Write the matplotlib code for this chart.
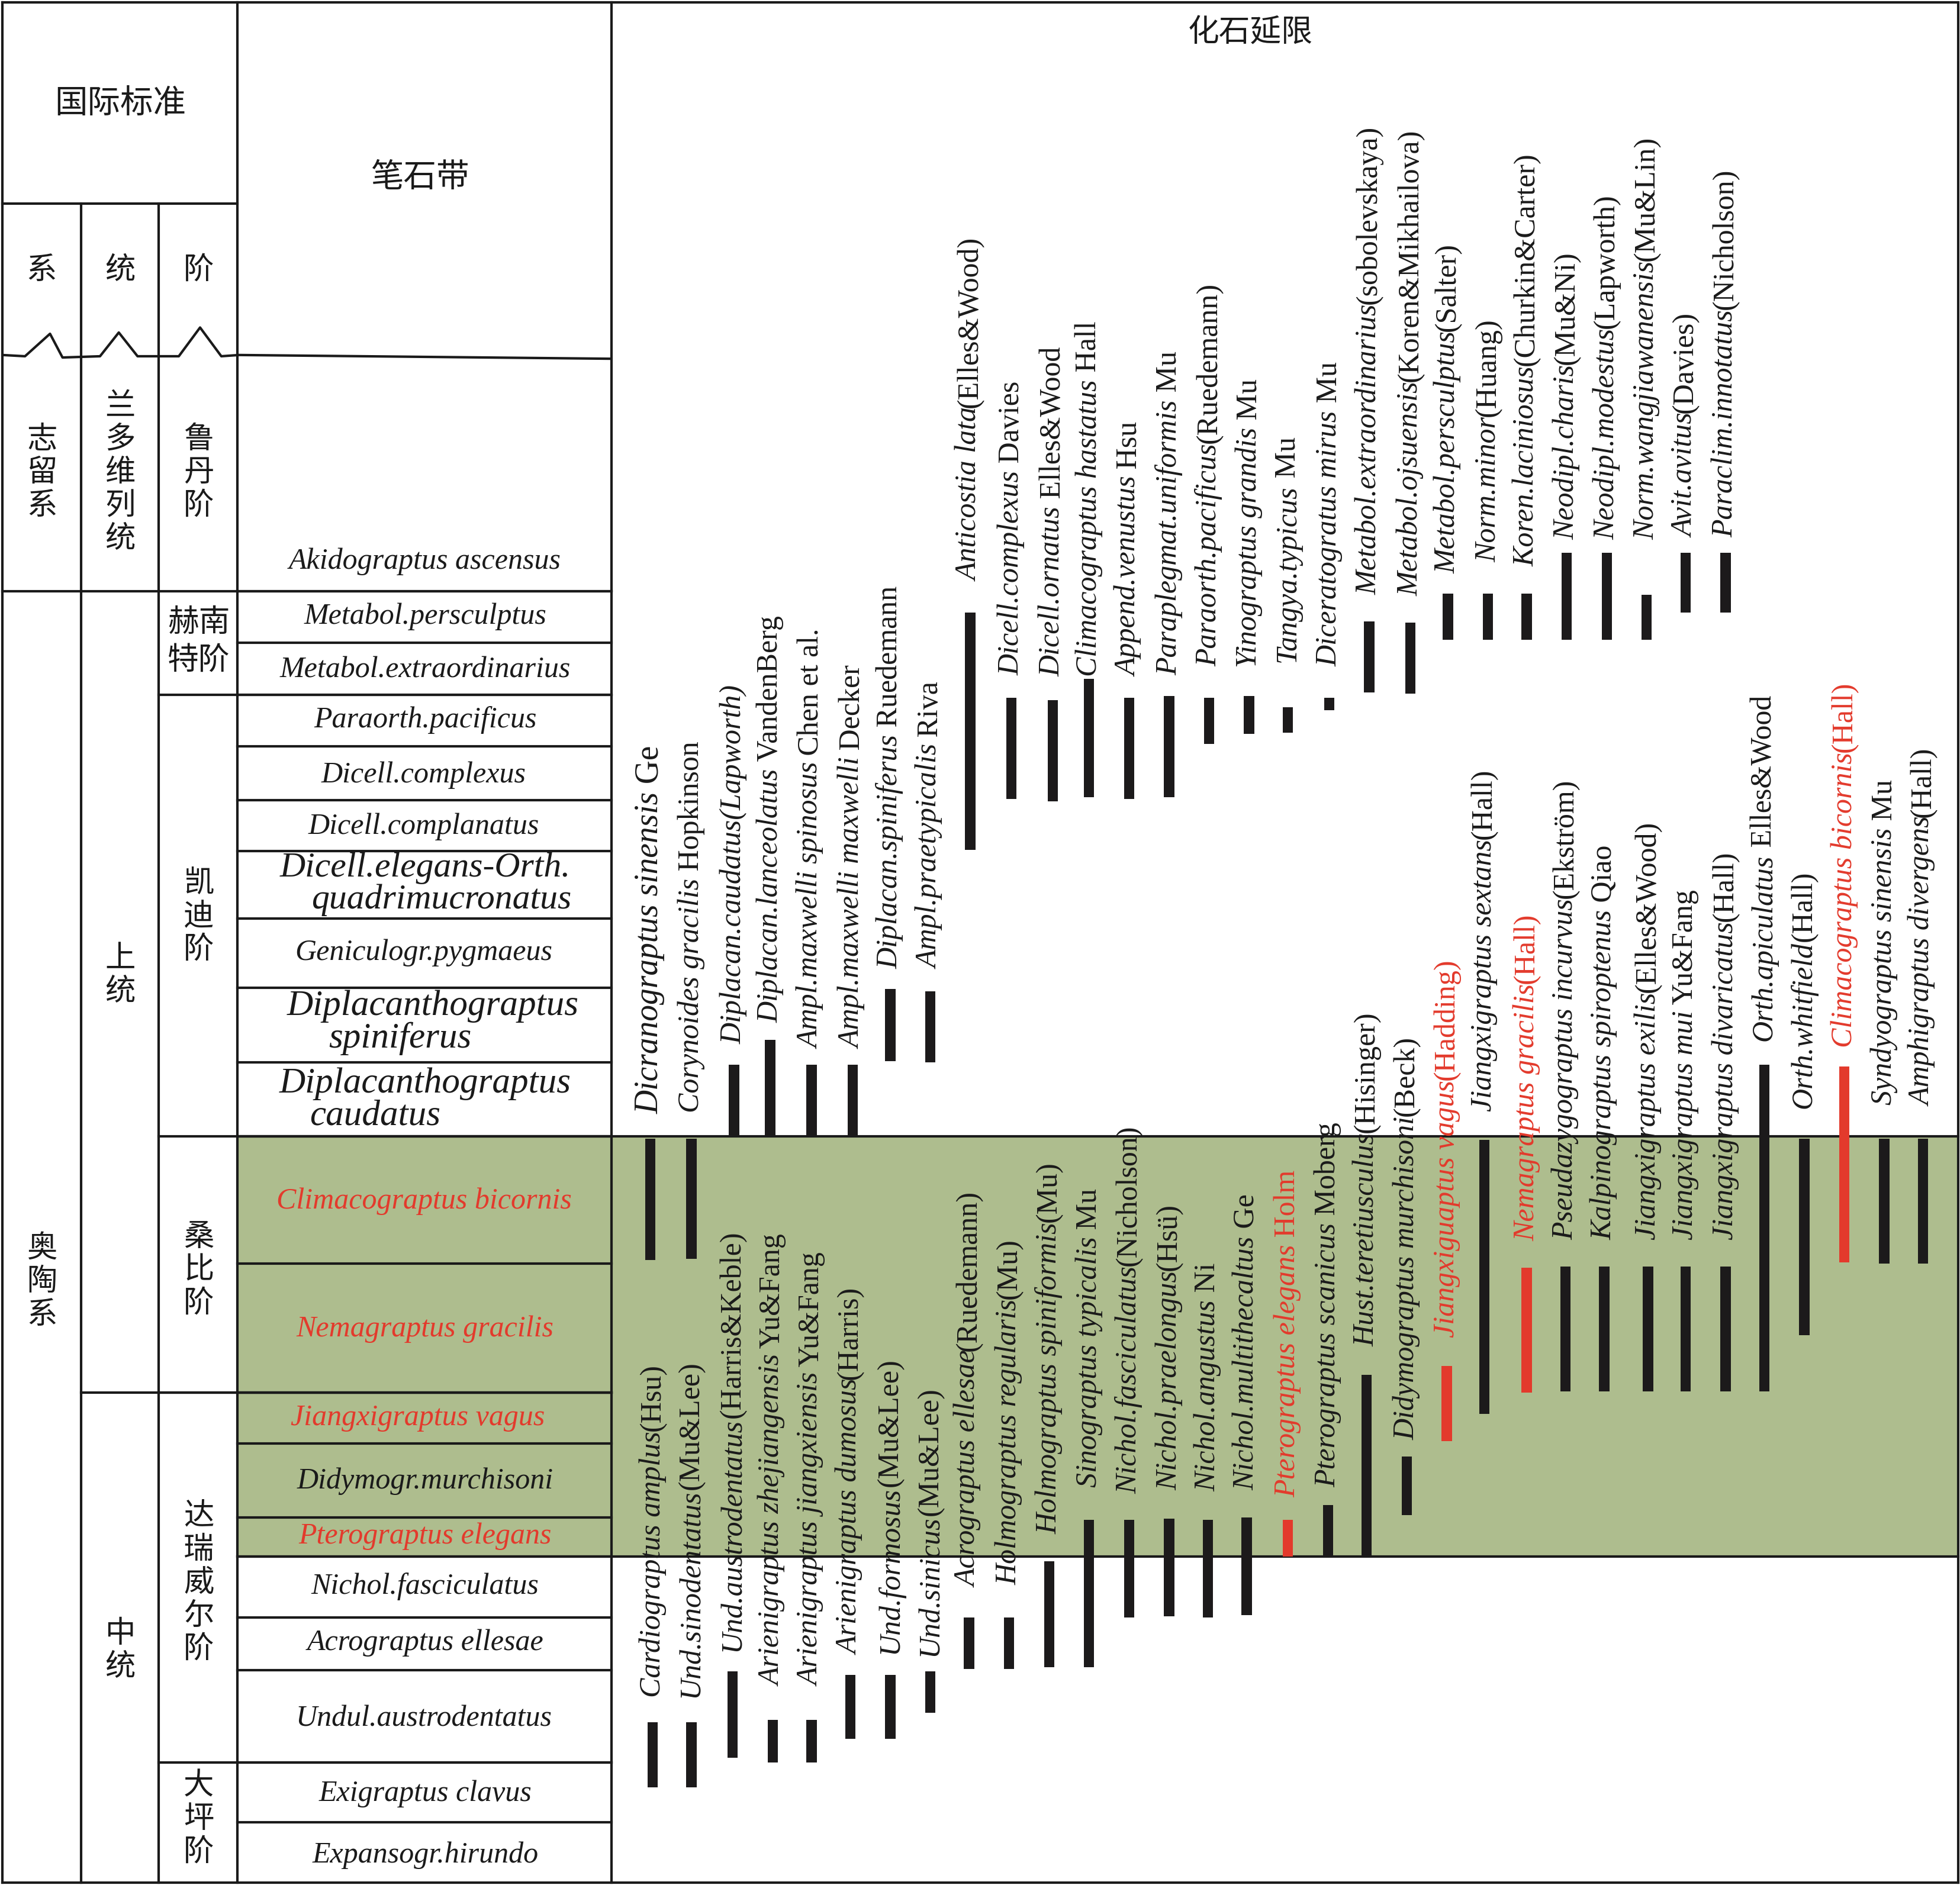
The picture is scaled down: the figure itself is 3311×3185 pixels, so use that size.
import matplotlib
matplotlib.use("Agg")
import matplotlib.pyplot as plt
from matplotlib.patches import Rectangle

# ---------------------------------------------------------------- data
# vertical scale: reference units, 0 at top of frame, 1508 at bottom
header_titles = ["国际标准", "系", "统", "阶", "笔石带", "化石延限"]

system_names = ["志留系", "奥陶系"]
system_edges = [285, 473, 1506]
system_label_y = [378, 1025]

series_names = ["兰多维列统", "上统", "中统"]
series_edges = [285, 473, 1114, 1506]
series_label_y = [378, 780, 1320]

stage_names = ["鲁丹阶", "赫南特阶", "凯迪阶", "桑比阶", "达瑞威尔阶", "大坪阶"]
stage_edges = [285, 473, 556, 909, 1114, 1410, 1506]
stage_label_y = [378, 513, 733, 1016, 1266, 1455]

zone_names = ["Akidograptus ascensus", "Metabol.persculptus", "Metabol.extraordinarius",
              "Paraorth.pacificus", "Dicell.complexus", "Dicell.complanatus",
              "Dicell.elegans-Orth.|quadrimucronatus", "Geniculogr.pygmaeus",
              "Diplacanthograptus|spiniferus", "Diplacanthograptus|caudatus",
              "Climacograptus bicornis", "Nemagraptus gracilis", "Jiangxigraptus vagus",
              "Didymogr.murchisoni", "Pterograptus elegans", "Nichol.fasciculatus",
              "Acrograptus ellesae", "Undul.austrodentatus", "Exigraptus clavus",
              "Expansogr.hirundo"]
zone_edges = [285, 473, 514, 556, 597, 640, 681, 735, 790, 850, 909, 1011, 1114,
              1155, 1214, 1245, 1294, 1336, 1410, 1458, 1506]
zone_red = [False] * 10 + [True, True, True, False, True] + [False] * 5
green_range = (909, 1245)

# fossil ranges: italic part, roman part, top, bottom, red
species_italic = [
    "Dicranograptus sinensis", "Corynoides gracilis", "Diplacan.caudatus(Lapworth)",
    "Diplacan.lanceolatus", "Ampl.maxwelli spinosus", "Ampl.maxwelli maxwelli",
    "Diplacan.spiniferus", "Ampl.praetypicalis", "Anticostia lata", "Dicell.complexus",
    "Dicell.ornatus", "Climacograptus hastatus", "Append.venustus",
    "Paraplegmat.uniformis", "Paraorth.pacificus", "Yinograptus grandis",
    "Tangya.typicus", "Diceratogratus mirus", "Metabol.extraordinarius",
    "Metabol.ojsuensis", "Metabol.persculptus", "Norm.minor", "Koren.laciniosus",
    "Neodipl.charis", "Neodipl.modestus", "Norm.wangjiawanensis", "Avit.avitus",
    "Paraclim.innotatus",
    "Cardiograptus amplus", "Und.sinodentatus", "Und.austrodentatus",
    "Arienigraptus zhejiangensis", "Arienigraptus jiangxiensis", "Arienigraptus dumosus",
    "Und.formosus", "Und.sinicus", "Acrograptus ellesae", "Holmograptus regularis",
    "Holmograptus spiniformis", "Sinograptus typicalis", "Nichol.fasciculatus",
    "Nichol.praelongus", "Nichol.angustus", "Nichol.multithecaltus",
    "Pterograptus elegans", "Pterograptus scanicus", "Hust.teretiusculus",
    "Didymograptus murchisoni", "Jiangxiguaptus vagus", "Jiangxigraptus sextans",
    "Nemagraptus gracilis", "Pseudazygograptus incurvus", "Kalpinograptus spiroptenus",
    "Jiangxigraptus exilis", "Jiangxigraptus mui", "Jiangxigraptus divaricatus",
    "Orth.apiculatus", "Orth.whitfield", "Climacograptus bicornis",
    "Syndyograptus sinensis", "Amphigraptus divergens"]
species_author = [
    " Ge", " Hopkinson", "", " VandenBerg", " Chen et al.", " Decker", " Ruedemann",
    " Riva", "(Elles&Wood)", " Davies", " Elles&Wood", " Hall", " Hsu", " Mu",
    "(Ruedemann)", " Mu", " Mu", " Mu", "(sobolevskaya)", "(Koren&Mikhailova)",
    "(Salter)", "(Huang)", "(Churkin&Carter)", "(Mu&Ni)", "(Lapworth)", "(Mu&Lin)",
    "(Davies)", "(Nicholson)",
    "(Hsu)", "(Mu&Lee)", "(Harris&Keble)", " Yu&Fang", " Yu&Fang", "(Harris)",
    "(Mu&Lee)", "(Mu&Lee)", "(Ruedemann)", "(Mu)", "(Mu)", " Mu", "(Nicholson)",
    "(Hsü)", " Ni", " Ge", " Holm", " Moberg", "(Hisinger)", "(Beck)", "(Hadding)",
    "(Hall)", "(Hall)", "(Ekström)", " Qiao", "(Elles&Wood)", " Yu&Fang", "(Hall)",
    " Elles&Wood", "(Hall)", "(Hall)", " Mu", "(Hall)"]
range_top = [
    911, 911, 852, 832, 852, 852, 791, 793, 490, 558, 560, 543, 558, 557, 558, 557,
    566, 558, 497, 498, 475, 475, 475, 442, 442, 476, 442, 442,
    1378, 1378, 1337, 1376, 1376, 1340, 1340, 1337, 1294, 1294, 1249, 1216, 1216,
    1215, 1216, 1214, 1216, 1204, 1100, 1165, 1093, 912, 1014, 1013, 1013, 1013,
    1013, 1013, 852, 911, 853, 911, 911]
range_bottom = [
    1008, 1007, 909, 909, 909, 909, 849, 850, 680, 639, 641, 638, 639, 638, 595, 587,
    586, 568, 554, 555, 512, 512, 512, 512, 512, 512, 490, 490,
    1430, 1430, 1406, 1410, 1410, 1391, 1391, 1370, 1335, 1335, 1334, 1334, 1294,
    1293, 1294, 1292, 1245, 1245, 1245, 1212, 1153, 1131, 1114, 1113, 1113, 1113,
    1113, 1113, 1113, 1068, 1010, 1011, 1011]
species_red = [False] * 44 + [True, False, False, False, True, False, True] + [False] * 7 + [True, False, False]

# ---------------------------------------------------------------- layout
W, H = 1568.0, 1508.0                 # reference units
PX = 3185 / H                         # pixels per unit
col_x = [2, 65, 127, 190, 489, 1566]  # frame columns
bar_x = [520, 553, 587, 616, 649, 682, 712, 744, 776, 809, 842, 871, 903, 935, 967,
         999, 1030, 1063, 1095, 1128, 1158, 1190, 1221, 1253, 1285, 1317, 1348, 1380,
         522, 553, 586, 618, 649, 680, 712, 744, 775, 807, 839, 871, 903, 935, 966,
         997, 1030, 1062, 1093, 1125, 1157, 1187, 1221, 1252, 1283, 1318, 1348, 1380,
         1411, 1443, 1475, 1507, 1538]
label_gap = [20, 21, 17, 14, 13, 13, 16, 18, 25, 18, 19, 2, 17, 17, 25, 23,
             36, 25, 21, 21, 16, 25, 22, 10, 10, 44, 12, 12,
             20, 20, 16, 27, 27, 16, 17, 12, 24, 26, 22, 26, 21,
             23, 23, 22, 18, 14, 23, 13, 23, 23, 21, 21, 21, 21,
             21, 21, 19, 24, 15, 27, 26]
label_fs = [40] + [36] * 60
zone_base = [455, 499, 542, 582, 626, 667, (701, 727), 768, (812, 838), (874, 900),
             967, 1069, 1140, 1191, 1235, 1275, 1320, 1381, 1441, 1490]
zone_xc = [340, 340, 340, 340, 339, 339, (340, 353), 339, (346, 320), (340, 300),
           339, 340, 334, 340, 340, 340, 340, 339, 340, 340]
zone_fs = [36] * 6 + [43, 36, 44, 44] + [36] * 10

BLACK = "#1a1a1a"
BAR = "#1c1a1b"
RED = "#e33a2c"
GREEN = "#aebd8e"
LW = 3.0
LATIN = "Liberation Serif"
CJK = ["Noto Sans CJK SC", "DejaVu Sans"]
CJK_FS = 37

fig = plt.figure(figsize=(33.12, 31.85), dpi=100)
ax = fig.add_axes([0, 0, 1, 1])
ax.set_xlim(0, W)
ax.set_ylim(H, 0)
ax.axis("off")
renderer = fig.canvas.get_renderer()

# green band
ax.add_patch(Rectangle((col_x[3], green_range[0]), col_x[5] - col_x[3],
                       green_range[1] - green_range[0], facecolor=GREEN,
                       edgecolor="none", zorder=0))


def hline(y, x0, x1):
    ax.plot([x0, x1], [y, y], color=BLACK, lw=LW, solid_capstyle="projecting", zorder=2)


def vline(x, y0, y1):
    ax.plot([x, x], [y0, y1], color=BLACK, lw=LW, solid_capstyle="projecting", zorder=2)


# frame
hline(2, col_x[0], col_x[5])
hline(1506, col_x[0], col_x[5])
vline(col_x[0], 2, 1506)
vline(col_x[5], 2, 1506)
vline(col_x[4], 2, 1506)
vline(col_x[3], 2, 1506)
vline(col_x[1], 163, 1506)
vline(col_x[2], 163, 1506)
hline(163, col_x[0], col_x[3])

# zigzag line under header
zig_x = [2, 20, 40, 50, 80, 95, 110, 143, 160, 177, 191, 489]
zig_y = [284, 285, 267, 286, 285, 266, 285, 285, 262, 285, 284, 287]
ax.plot(zig_x, zig_y, color=BLACK, lw=LW, zorder=2)

# unit boundaries
for y in system_edges[1:-1]:
    hline(y, col_x[0], col_x[4])
for y in series_edges[2:-1]:
    hline(y, col_x[1], col_x[4])
for y in stage_edges[2:-1]:
    hline(y, col_x[2], col_x[4])
for y in zone_edges[1:-1]:
    hline(y, col_x[3], col_x[4])
for y in green_range:
    hline(y, col_x[3], col_x[5])


def ctext(x, y, s, fs=CJK_FS):
    ax.text(x, y, s, ha="center", va="center", fontsize=fs, family=CJK,
            color=BLACK, zorder=4)


def vtext(x, yc, s, step=26.5, fs=CJK_FS):
    n = len(s)
    for i, ch in enumerate(s):
        ctext(x, yc + (i - (n - 1) / 2) * step, ch, fs)


# headers
ctext(96, 83, header_titles[0], 40)
ctext(33, 216, header_titles[1])
ctext(96, 216, header_titles[2])
ctext(159, 216, header_titles[3])
ctext(336, 142, header_titles[4], 40)
ctext(1000, 26, header_titles[5], 38)

for name, yc in zip(system_names, system_label_y):
    vtext(33.5, yc, name)
for name, yc in zip(series_names, series_label_y):
    vtext(96, yc, name)
for name, yc in zip(stage_names, stage_label_y):
    if len(name) == 4:
        ctext(159, yc - 15, name[:2], 38)
        ctext(159, yc + 15, name[2:], 38)
    else:
        vtext(159, yc, name)

# zone names
for name, base, xc, fs, red in zip(zone_names, zone_base, zone_xc, zone_fs, zone_red):
    parts = name.split("|")
    bases = base if isinstance(base, tuple) else (base,)
    xcs = xc if isinstance(xc, tuple) else (xc,)
    for p, b, xx in zip(parts, bases, xcs):
        ax.text(xx, b, p, ha="center", va="baseline", fontsize=fs, family=LATIN,
                style="italic", color=RED if red else BLACK, zorder=4)

# range bars
for x, t, b, red in zip(bar_x, range_top, range_bottom, species_red):
    ax.bar(x, b - t, bottom=t, width=8.2, color=RED if red else BAR,
           edgecolor="none", zorder=3)

# species labels (italic name + roman author, rotated)
for x, t, gap, fs, it, au, red in zip(bar_x, range_top, label_gap, label_fs,
                                       species_italic, species_author, species_red):
    col = RED if red else BLACK
    em = fs * 100 / 72 / PX
    y0 = t - gap
    xb = x + 0.24 * em
    txt = ax.text(xb, y0, it, rotation=90, rotation_mode="anchor", ha="left",
                  va="baseline", fontsize=fs, family=LATIN, style="italic",
                  color=col, zorder=4)
    if au:
        L = txt.get_window_extent(renderer).height / PX
        ax.text(xb, y0 - L, au, rotation=90, rotation_mode="anchor", ha="left",
                va="baseline", fontsize=fs, family=LATIN, style="normal",
                color=col, zorder=4)

fig.savefig("out.png", dpi=100)
